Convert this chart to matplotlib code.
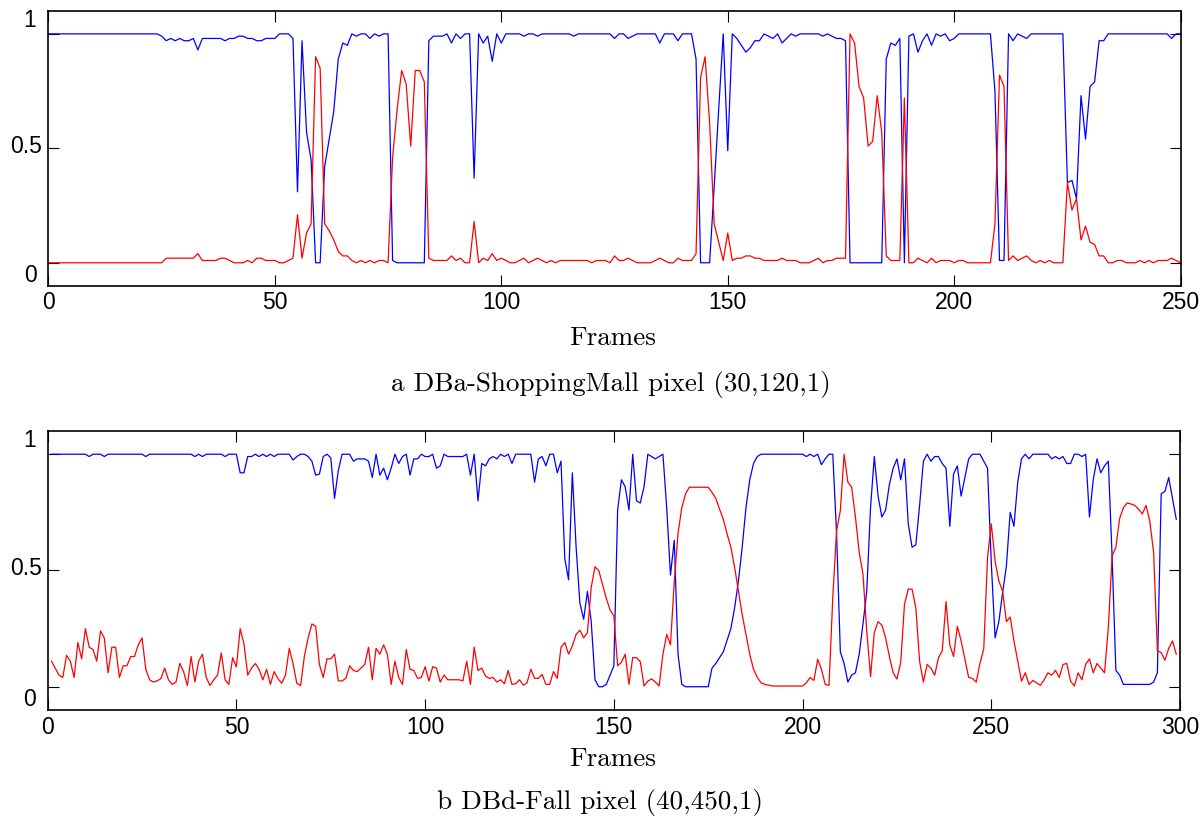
import numpy as np
import matplotlib
matplotlib.use('Agg')
import matplotlib.pyplot as plt

# DBa-ShoppingMall pixel (30,120,1), frames 0..250
mall_blue = [1.00] * 24 + [
    1.00, 0.99, 0.97, 0.98, 0.97, 0.98, 0.97, 0.97, 0.98, 0.93,
    0.98, 0.98, 0.98, 0.98, 0.98, 0.97, 0.98, 0.98, 0.99, 0.99,
    0.98, 0.98, 0.97, 0.97, 0.98, 0.98, 0.98, 1.00, 1.00, 1.00,
    0.98, 0.31, 0.97, 0.57, 0.45, 0.00, 0.00, 0.42, 0.54, 0.66,
    0.89, 0.96, 0.95, 1.00, 0.99, 1.00, 1.00, 0.98, 1.00, 0.99,
    1.00, 1.00, 0.01, 0.00, 0.00, 0.00, 0.00, 0.00, 0.00, 0.00,
    0.97, 0.99, 0.99, 0.99, 1.00, 0.96, 1.00, 0.98, 1.00, 1.00,
    0.37, 1.00, 0.96, 0.99, 0.88, 1.00, 0.96, 1.00, 1.00, 1.00,
    1.00, 0.99, 1.00, 1.00, 0.99, 1.00, 1.00, 1.00, 1.00, 1.00,
    1.00, 1.00, 0.99, 1.00, 1.00, 1.00, 1.00, 1.00, 1.00, 1.00,
    1.00, 0.98, 1.00, 1.00, 0.98, 0.99, 1.00, 1.00, 1.00, 1.00,
    1.00, 0.96, 1.00, 1.00, 1.00, 0.97, 1.00, 1.00, 1.00, 0.89,
    0.00, 0.00, 0.00, 0.33, 0.67, 1.00, 0.49, 1.00, 0.98, 0.95,
    0.92, 0.94, 0.97, 0.97, 1.00, 0.99, 0.98, 1.00, 0.96, 0.98,
    1.00, 0.99, 1.00, 1.00, 1.00, 1.00, 1.00, 0.99, 1.00, 0.99,
    0.98, 0.98, 0.97, 0.00, 0.00, 0.00, 0.00, 0.00, 0.00, 0.00,
    0.00, 0.89, 0.96, 0.95, 0.98, 0.00, 0.99, 1.00, 0.92, 0.97,
    1.00, 0.95, 1.00, 0.99, 1.00, 0.97, 0.98, 1.00, 1.00, 1.00,
    1.00, 1.00, 1.00, 1.00, 1.00, 0.75, 0.01, 0.01, 1.00, 0.97,
    1.00, 0.99, 0.98, 1.00, 1.00, 1.00, 1.00, 1.00, 1.00, 1.00,
    1.00, 0.35, 0.36, 0.28, 0.73, 0.54, 0.77, 0.79, 0.97, 0.97,
    1.00, 1.00, 1.00, 1.00, 1.00, 1.00, 1.00, 1.00, 1.00, 1.00,
    1.00, 1.00, 1.00, 1.00, 0.98, 1.00, 1.00]

mall_red = [0.00] * 24 + [
    0.00, 0.00, 0.02, 0.02, 0.02, 0.02, 0.02, 0.02, 0.02, 0.04,
    0.01, 0.01, 0.01, 0.01, 0.02, 0.02, 0.01, 0.00, 0.00, 0.00,
    0.01, 0.00, 0.02, 0.02, 0.01, 0.01, 0.01, 0.00, 0.00, 0.01,
    0.02, 0.21, 0.02, 0.13, 0.17, 0.90, 0.85, 0.17, 0.14, 0.10,
    0.05, 0.03, 0.03, 0.01, 0.00, 0.01, 0.00, 0.01, 0.00, 0.01,
    0.01, 0.00, 0.46, 0.67, 0.84, 0.78, 0.51, 0.84, 0.84, 0.79,
    0.02, 0.01, 0.01, 0.01, 0.01, 0.03, 0.01, 0.02, 0.00, 0.00,
    0.18, 0.00, 0.02, 0.01, 0.04, 0.01, 0.02, 0.01, 0.00, 0.00,
    0.01, 0.02, 0.00, 0.01, 0.02, 0.01, 0.00, 0.01, 0.00, 0.01,
    0.01, 0.01, 0.01, 0.01, 0.01, 0.01, 0.00, 0.01, 0.01, 0.01,
    0.00, 0.03, 0.01, 0.01, 0.02, 0.01, 0.00, 0.00, 0.00, 0.00,
    0.01, 0.02, 0.01, 0.00, 0.00, 0.02, 0.01, 0.01, 0.01, 0.04,
    0.81, 0.90, 0.61, 0.17, 0.09, 0.01, 0.13, 0.01, 0.02, 0.02,
    0.03, 0.03, 0.02, 0.02, 0.01, 0.01, 0.01, 0.01, 0.02, 0.01,
    0.01, 0.01, 0.00, 0.00, 0.00, 0.01, 0.02, 0.00, 0.01, 0.01,
    0.02, 0.02, 0.02, 1.00, 0.96, 0.77, 0.72, 0.51, 0.53, 0.73,
    0.57, 0.03, 0.01, 0.01, 0.01, 0.72, 0.00, 0.00, 0.02, 0.01,
    0.00, 0.02, 0.00, 0.01, 0.01, 0.01, 0.00, 0.01, 0.01, 0.00,
    0.00, 0.00, 0.00, 0.00, 0.00, 0.17, 0.82, 0.77, 0.01, 0.03,
    0.01, 0.02, 0.03, 0.01, 0.00, 0.01, 0.00, 0.01, 0.00, 0.00,
    0.00, 0.35, 0.23, 0.28, 0.10, 0.16, 0.09, 0.08, 0.03, 0.03,
    0.00, 0.00, 0.01, 0.01, 0.00, 0.00, 0.00, 0.01, 0.00, 0.01,
    0.00, 0.01, 0.01, 0.01, 0.02, 0.01, 0.00]

# DBd-Fall pixel (40,450,1), frames 1..299
fall_blue = [
    1.00, 1.00, 1.00, 1.00, 1.00, 1.00, 1.00, 1.00, 1.00, 1.00,
    0.99, 1.00, 1.00, 1.00, 0.99, 1.00, 1.00, 1.00, 1.00, 1.00,
    1.00, 1.00, 1.00, 1.00, 1.00, 0.99, 1.00, 1.00, 1.00, 1.00,
    1.00, 1.00, 1.00, 1.00, 1.00, 1.00, 1.00, 1.00, 0.99, 1.00,
    0.99, 1.00, 1.00, 1.00, 1.00, 1.00, 0.99, 1.00, 1.00, 1.00,
    0.92, 0.92, 0.99, 0.99, 1.00, 0.99, 1.00, 0.99, 1.00, 0.99,
    1.00, 1.00, 1.00, 1.00, 0.975, 0.99, 1.00, 1.00, 0.99, 0.97,
    0.91, 0.915, 0.99, 1.00, 0.985, 0.81, 0.93, 1.00, 1.00, 1.00,
    0.97, 0.98, 0.98, 0.98, 0.97, 0.90, 1.00, 0.91, 0.94, 0.89,
    0.94, 1.00, 0.96, 0.99, 1.00, 0.91, 0.98, 0.98, 1.00, 0.99,
    0.99, 1.00, 0.94, 0.95, 1.00, 0.99, 0.99, 0.99, 0.99, 0.99,
    1.00, 0.91, 1.00, 0.80, 0.96, 0.95, 0.98, 0.99, 0.98, 1.00,
    0.99, 1.00, 0.96, 1.00, 1.00, 1.00, 1.00, 1.00, 0.88, 0.98,
    0.99, 0.95, 1.00, 1.00, 0.92, 0.97, 0.55, 0.46, 0.92, 0.60,
    0.36, 0.29, 0.41, 0.28, 0.03, 0.00, 0.00, 0.01, 0.05, 0.09,
    0.76, 0.89, 0.86, 0.76, 1.00, 0.80, 0.79, 0.86, 1.00, 0.99,
    0.98, 0.99, 1.00, 0.77, 0.48, 0.63, 0.14, 0.01, 0.00, 0.00,
    0.00, 0.00, 0.00, 0.00, 0.00, 0.08, 0.10, 0.125, 0.15, 0.20,
    0.25, 0.34, 0.455, 0.60, 0.77, 0.89, 0.96, 0.99, 1.00, 1.00,
    1.00, 1.00, 1.00, 1.00, 1.00, 1.00, 1.00, 1.00, 1.00, 1.00,
    0.99, 1.00, 0.99, 1.00, 0.955, 0.98, 1.00, 1.00, 0.66, 0.15,
    0.10, 0.02, 0.05, 0.06, 0.14, 0.27, 0.41, 0.77, 0.99, 0.82,
    0.73, 0.76, 0.87, 0.94, 0.98, 0.89, 0.98, 0.70, 0.60, 0.61,
    0.78, 0.97, 1.00, 0.97, 0.99, 0.99, 0.96, 0.94, 0.69, 0.915,
    0.95, 0.82, 0.90, 0.98, 1.00, 1.00, 1.00, 0.97, 0.94, 0.53,
    0.21, 0.28, 0.405, 0.52, 0.75, 0.69, 0.88, 0.98, 1.00, 0.98,
    1.00, 1.00, 1.00, 1.00, 1.00, 0.98, 0.99, 0.98, 0.99, 0.96,
    0.96, 1.00, 1.00, 0.99, 1.00, 0.73, 0.89, 0.98, 0.92, 0.95,
    0.97, 0.56, 0.07, 0.05, 0.01, 0.01, 0.01, 0.01, 0.01, 0.01,
    0.01, 0.01, 0.02, 0.06, 0.83, 0.84, 0.90, 0.81, 0.72]

fall_red = [
    0.11, 0.08, 0.05, 0.04, 0.135, 0.11, 0.04, 0.19, 0.12, 0.25,
    0.17, 0.16, 0.11, 0.24, 0.21, 0.06, 0.17, 0.17, 0.04, 0.09,
    0.09, 0.13, 0.13, 0.18, 0.21, 0.075, 0.03, 0.02, 0.025, 0.035,
    0.08, 0.03, 0.01, 0.02, 0.10, 0.065, 0.005, 0.13, 0.02, 0.11,
    0.14, 0.04, 0.005, 0.03, 0.05, 0.145, 0.03, 0.01, 0.125, 0.085,
    0.25, 0.185, 0.05, 0.08, 0.10, 0.075, 0.03, 0.075, 0.01, 0.065,
    0.035, 0.015, 0.05, 0.165, 0.10, 0.015, 0.005, 0.13, 0.21, 0.27,
    0.26, 0.095, 0.04, 0.12, 0.12, 0.14, 0.025, 0.025, 0.036, 0.09,
    0.07, 0.065, 0.08, 0.096, 0.17, 0.03, 0.165, 0.14, 0.18, 0.14,
    0.01, 0.11, 0.04, 0.01, 0.16, 0.075, 0.07, 0.036, 0.04, 0.086,
    0.025, 0.086, 0.08, 0.02, 0.05, 0.03, 0.03, 0.03, 0.03, 0.025,
    0.11, 0.01, 0.17, 0.07, 0.08, 0.046, 0.036, 0.04, 0.02, 0.03,
    0.013, 0.07, 0.01, 0.013, 0.03, 0.007, 0.017, 0.075, 0.036, 0.036,
    0.053, 0.01, 0.01, 0.065, 0.036, 0.17, 0.19, 0.14, 0.175, 0.225,
    0.243, 0.21, 0.233, 0.427, 0.516, 0.50, 0.44, 0.38, 0.33, 0.305,
    0.09, 0.105, 0.14, 0.01, 0.125, 0.125, 0.108, 0.003, 0.024, 0.034,
    0.02, 0.003, 0.14, 0.225, 0.18, 0.45, 0.66, 0.77, 0.83, 0.858,
    0.858, 0.858, 0.858, 0.858, 0.858, 0.836, 0.81, 0.764, 0.72, 0.657,
    0.60, 0.513, 0.41, 0.31, 0.225, 0.14, 0.075, 0.04, 0.017, 0.01,
    0.007, 0.003, 0.003, 0.003, 0.003, 0.003, 0.003, 0.003, 0.003, 0.003,
    0.017, 0.04, 0.027, 0.118, 0.075, 0.01, 0.006, 0.384, 0.67, 0.757,
    1.00, 0.88, 0.858, 0.73, 0.578, 0.484, 0.24, 0.043, 0.233, 0.28,
    0.265, 0.21, 0.13, 0.06, 0.033, 0.105, 0.355, 0.42, 0.42, 0.34,
    0.11, 0.02, 0.096, 0.08, 0.05, 0.125, 0.154, 0.366, 0.18, 0.13,
    0.26, 0.197, 0.118, 0.04, 0.036, 0.02, 0.10, 0.164, 0.556, 0.70,
    0.54, 0.455, 0.41, 0.28, 0.30, 0.197, 0.11, 0.024, 0.06, 0.01,
    0.027, 0.017, 0.006, 0.03, 0.06, 0.05, 0.07, 0.04, 0.096, 0.10,
    0.024, 0.003, 0.06, 0.03, 0.096, 0.12, 0.06, 0.10, 0.08, 0.06,
    0.254, 0.563, 0.60, 0.724, 0.77, 0.79, 0.786, 0.78, 0.764, 0.743,
    0.78, 0.71, 0.578, 0.154, 0.147, 0.114, 0.165, 0.197, 0.14]

tick_font = 'Liberation Sans'
cm_font = 'cmr10'

fig = plt.figure(figsize=(12.04, 8.19), dpi=100)


def prob_panel(rect, frames, blue, red, xmax, caption, cap_xy, lab_y):
    ax = fig.add_axes(rect)
    ax.plot(frames, blue, color='#0000ff', lw=0.9)
    ax.plot(frames, red, color='#ff0000', lw=0.9)
    ax.set_xlim(0, xmax)
    ax.set_ylim(-0.1, 1.1)
    ax.set_xticks(np.arange(0, xmax + 1, 50))
    ax.set_xticklabels([str(t) for t in range(0, xmax + 1, 50)],
                       fontfamily=tick_font, fontsize=16.5)
    ax.set_yticks([0, 0.5, 1])
    ax.tick_params(direction='in', length=8, width=0.8, top=True, right=True,
                   labelleft=False, pad=4)
    for s in ax.spines.values():
        s.set_linewidth(1.2)
    # y labels sit a little apart from their ticks
    for val, pos, dx in [(1, 1.057, -18.5), (0.5, 0.51, -22), (0, -0.057, -18)]:
        ax.annotate(('%g' % val), xy=(0, pos), xycoords=('axes fraction', 'data'),
                    xytext=(dx, 0), textcoords='offset pixels',
                    ha='center', va='center', fontfamily=tick_font, fontsize=16.5)
    fig.text(0.509, lab_y, 'Frames', ha='center', va='center',
             fontfamily=cm_font, fontsize=19.5)
    fig.text(cap_xy[0], cap_xy[1], caption, ha='center', va='center',
             fontfamily=cm_font, fontsize=19.5)
    return ax


prob_panel([0.0402, 0.6512, 0.9404, 0.3354], np.arange(len(mall_blue)),
           mall_blue, mall_red, 250, 'a DBa-ShoppingMall pixel (30,120,1)',
           (611 / 1204, 1 - 384 / 819), 1 - 338 / 819)
prob_panel([0.0396, 0.1331, 0.9405, 0.3407], np.arange(1, len(fall_blue) + 1),
           fall_blue, fall_red, 300, 'b DBd-Fall pixel (40,450,1)',
           (600 / 1204, 1 - 803 / 819), 1 - 759 / 819)

plt.savefig('out.png', dpi=100)
plt.close(fig)
